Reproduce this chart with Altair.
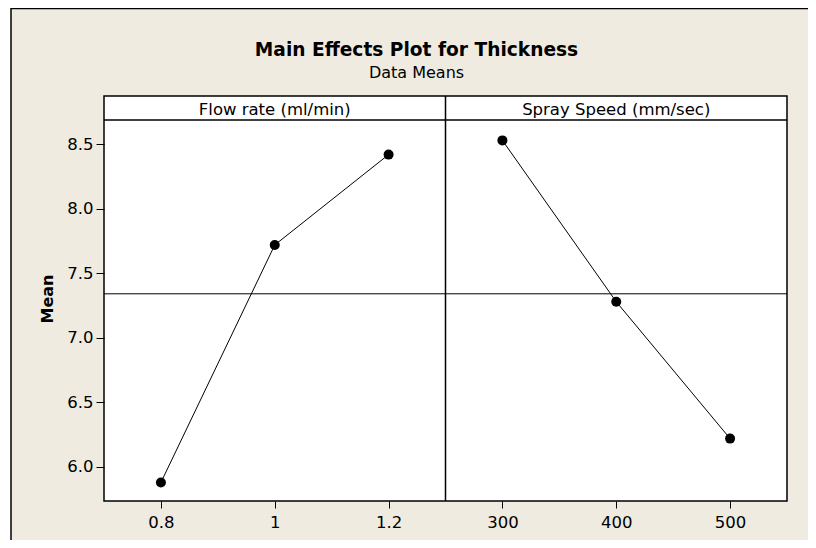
import altair as alt
import pandas as pd

# ---- data ----
factors = ["Flow rate (ml/min)"] * 3 + ["Spray Speed (mm/sec)"] * 3
levels = ["0.8", "1", "1.2", "300", "400", "500"]
means = [5.88, 7.72, 8.42, 8.53, 7.28, 6.22]
order = [0, 1, 2, 3, 4, 5]

panel_titles = ["Flow rate (ml/min)", "Spray Speed (mm/sec)"]
panel_centre_level = ["1", "400"]

y_ticks = [6.0, 6.5, 7.0, 7.5, 8.0, 8.5]

title_text = "Main Effects Plot for Thickness"
subtitle_text = "Data Means"

df = pd.DataFrame({"Factor": factors, "Level": levels, "Mean": means, "Idx": order})
hdr = pd.DataFrame({"Header": panel_titles, "At": panel_centre_level})
one = pd.DataFrame({"k": [0]})
ttl = pd.DataFrame({"T": [title_text]})
sub = pd.DataFrame({"T": [subtitle_text]})

# ---- layout ----
W, H = 683, 405
PAD_L, PAD_T = 96, 88
SVG_W, SVG_H = 800, 532
FONT = "DejaVu Sans"
FS = 16.5
BEIGE = "#EFEBE1"

yscale = alt.Scale(domain=[5.7366, 8.874], nice=False, zero=False)
xscale = alt.Scale(type="point", padding=0.5, domain=levels)

xaxis = alt.Axis(title=None, labelAngle=0, labelFont=FONT, labelFontSize=FS,
                 labelColor="black", tickColor="black", tickSize=7, tickWidth=1,
                 labelPadding=6, domain=False, grid=False, zindex=1)
yaxis = alt.Axis(title="Mean", values=y_ticks, format=".1f", labelFont=FONT,
                 labelFontSize=FS, labelColor="black", tickColor="black",
                 tickSize=8, tickWidth=1, labelPadding=3, domain=False, grid=False,
                 titleFont=FONT, titleFontSize=16, titleFontWeight="bold",
                 titleColor="black", titleX=-52, titleBaseline="alphabetic",
                 zindex=1)

frame = alt.Chart(one).mark_rect(fill=BEIGE, strokeWidth=0).encode(
    x=alt.value(-93), x2=alt.value(SVG_W - PAD_L), y=alt.value(-88), y2=alt.value(SVG_H - PAD_T)
)
frame_left = alt.Chart(one).mark_rule(color="black", strokeWidth=1.5).encode(
    x=alt.value(-93), y=alt.value(-88), y2=alt.value(SVG_H - PAD_T)
)
frame_top = alt.Chart(one).mark_rule(color="black", strokeWidth=1.5).encode(
    x=alt.value(-93), x2=alt.value(SVG_W - PAD_L), y=alt.value(-87.5)
)
plotbox = alt.Chart(one).mark_rect(fill="white", stroke="black", strokeWidth=1.5).encode(
    x=alt.value(0), x2=alt.value(W), y=alt.value(0), y2=alt.value(H)
)
header_line = alt.Chart(one).mark_rule(color="black", strokeWidth=1.5).encode(
    x=alt.value(0), x2=alt.value(W), y=alt.value(24)
)
divider = alt.Chart(one).mark_rule(color="black", strokeWidth=1.5).encode(
    x=alt.value(W / 2), y=alt.value(0), y2=alt.value(H)
)
mean_line = alt.Chart(df).mark_rule(color="black", strokeWidth=1).encode(
    y=alt.Y("mean(Mean):Q", scale=yscale, axis=yaxis)
)
lines = alt.Chart(df).mark_line(color="black", strokeWidth=1).encode(
    x=alt.X("Level:N", scale=xscale, sort=levels, axis=xaxis),
    y=alt.Y("Mean:Q", scale=yscale, axis=yaxis),
    detail="Factor:N",
    order="Idx:Q",
)
points = alt.Chart(df).mark_circle(color="black", size=100, opacity=1).encode(
    x=alt.X("Level:N", scale=xscale, sort=levels, axis=xaxis),
    y=alt.Y("Mean:Q", scale=yscale, axis=yaxis),
)
headers = alt.Chart(hdr).mark_text(font=FONT, fontSize=FS, color="black",
                                   baseline="alphabetic", align="center").encode(
    x=alt.X("At:N", scale=xscale, sort=levels, axis=xaxis),
    y=alt.value(19),
    text="Header:N",
)
title_mark = alt.Chart(ttl).mark_text(font=FONT, fontSize=18.6, fontWeight="bold",
                                      color="black", baseline="alphabetic",
                                      align="center").encode(
    x=alt.value(W / 2 - 29), y=alt.value(-40), text="T:N"
)
subtitle_mark = alt.Chart(sub).mark_text(font=FONT, fontSize=16, color="black",
                                         baseline="alphabetic", align="center").encode(
    x=alt.value(W / 2 - 29), y=alt.value(-18), text="T:N"
)

chart = alt.layer(frame, frame_left, frame_top, plotbox, header_line,
                  divider, mean_line, lines, points, headers, title_mark,
                  subtitle_mark).properties(
    width=W,
    height=H,
    autosize=alt.AutoSizeParams(type="none"),
    padding={"left": PAD_L, "top": PAD_T, "right": SVG_W - PAD_L - W, "bottom": SVG_H - PAD_T - H},
    background="white",
).configure_view(stroke=None)

chart.save("out.html", embed_options={"renderer": "svg", "actions": False})
